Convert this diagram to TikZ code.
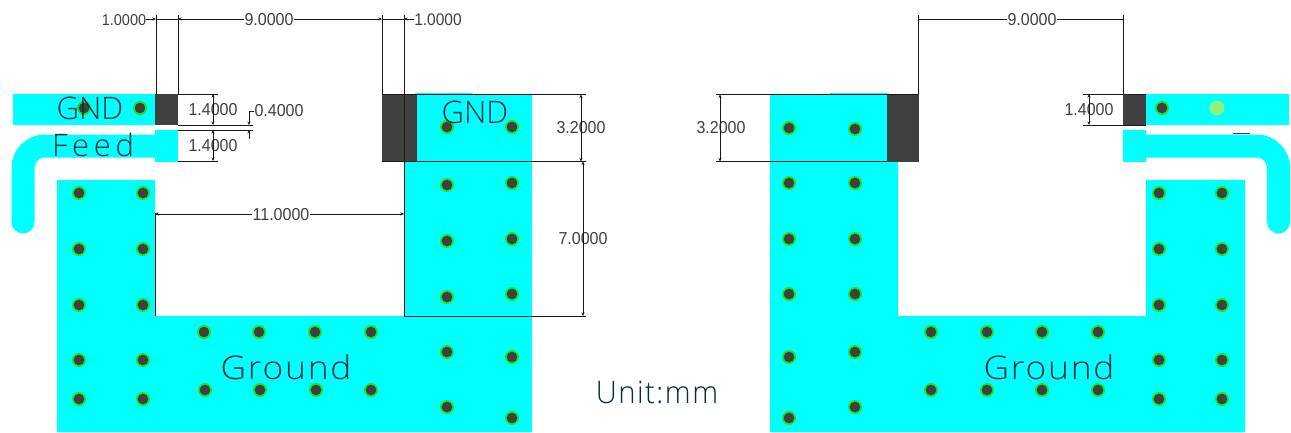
\documentclass[tikz,border=0pt]{standalone}
\usepackage{fontspec}
\usepackage{graphicx}
\setmainfont{Liberation Sans}
\newfontfamily\thinfont{Open Sans Light}
\newfontfamily\thinwide[LetterSpace=15]{Open Sans Light}
\usetikzlibrary{arrows.meta}
\definecolor{cy}{HTML}{00FFFF}
\definecolor{dk}{HTML}{404040}
\definecolor{vg}{HTML}{22E022}
\definecolor{tl}{HTML}{06303C}
\definecolor{lg}{HTML}{90F080}
\tikzset{
  pad/.style={fill=cy,draw=none},
  metal/.style={fill=dk,draw=none},
  dimline/.style={draw=black!90,line width=1pt},
  tipend/.style={dimline,-{Stealth[length=3.5pt,width=3pt]}},
  tipstart/.style={dimline,{Stealth[length=3.5pt,width=3pt]}-},
  dimarrow/.style={dimline,{Stealth[length=3.5pt,width=3pt]}-{Stealth[length=3.5pt,width=3pt]}},
  dimlab/.style={inner sep=0pt,text=black!75,font=\fontsize{16}{16}\selectfont},
  biglab/.style={inner sep=0pt,text=tl,font=\thinfont\fontsize{31}{31}\selectfont},
  via/.pic={\fill[vg] (0,0) circle (7pt);\fill[dk] (0,0) circle (5.3pt);}
}
\newcommand{\tall}[1]{\scalebox{1}[1.08]{#1}}
\begin{document}
\begin{tikzpicture}[x=1pt,y=-1pt]
\useasboundingbox[fill=white] (0,0) rectangle (1291,432);
% ---- left copper
\fill[pad] (13,94) rectangle (155,125);
\fill[metal] (155,94) rectangle (178,125);
\draw[cy,line width=23pt,line cap=round,rounded corners=22pt] (165,146) -- (23,146) -- (23,222);
\fill[pad] (155,130) rectangle (178,161.5);
\fill[pad] (57,180) -- (155,180) -- (155,316) -- (404,316) -- (404,161) -- (417,161) -- (417,95) -- (532,95) -- (532,432) -- (57,432) -- cycle;
\fill[pad] (415,92.5) rectangle (473,95);
\fill[metal] (382,94) rectangle (417,161.5);
% ---- right copper
\fill[pad] (1146,94) rectangle (1289,125);
\fill[metal] (1123,94) rectangle (1146,125);
\draw[cy,line width=23pt,line cap=round,rounded corners=22pt] (1136,146) -- (1278.5,146) -- (1278.5,222);
\fill[pad] (1123,130) rectangle (1146,161.5);
\fill[pad] (1245,180) -- (1146,180) -- (1146,316) -- (898,316) -- (898,161) -- (887,161) -- (887,95) -- (770,95) -- (770,432) -- (1245,432) -- cycle;
\fill[pad] (830,92.5) rectangle (889,95);
\fill[metal] (887,94) rectangle (919,161.5);
\draw[dk,line width=1.2pt] (1233,133.5) -- (1250,133.5);
% ---- vias
\foreach \p in {(84,108),(140,108),(79,193),(143,193),(79,249),(143,249),(79,305),(143,305),(79,360),(143,360),(79,399),(143,399),
 (204,332),(259,332),(315,332),(371,332),(205,390),(260,390),(316,390),(371,390),
 (447,127),(512,127),(447,185),(512,183),(447,241),(512,239),(447,297),(512,294),(447,352),(512,357),(447,407),(512,418),
 (789,128),(855,129),(789,183),(855,183),(789,239),(855,239),(789,294),(855,294),(789,357),(855,352),(789,418),(855,407),
 (931,332),(987,332),(1042,332),(1098,332),(931,390),(987,390),(1042,390),(1098,390),
 (1159,193),(1222,193),(1159,249),(1222,249),(1159,305),(1222,305),(1159,360),(1222,360),(1159,399),(1222,399),
 (1162,108)} \path \p pic {via};
\fill[lg] (1217,108) circle (7.5pt);
% ---- big labels
\node[biglab] (gndl) at (90,108) {GND};
\node[biglab] (gndm) at (475,112) {GND};
\node[biglab,font=\thinwide\fontsize{31}{31}\selectfont] (feed) at (93,145) {Feed};
\node[biglab] (grl) at (286,367) {\scalebox{1.14}[1.05]{\addfontfeature{LetterSpace=5}Ground}};
\node[biglab] (grr) at (1049,367) {\scalebox{1.14}[1.05]{\addfontfeature{LetterSpace=5}Ground}};
\node[biglab] (unit) at (657,392) {\scalebox{0.945}[1]{\addfontfeature{LetterSpace=5}Unit:mm}};
% ---- dimension labels
\node[dimlab,font=\fontsize{14.5}{14.5}\selectfont] (d1a) at (124,20) {\tall{1.0000}};
\node[dimlab] (d9a) at (269,20) {\tall{9.0000}};
\node[dimlab,font=\fontsize{15.5}{15.5}\selectfont] (d1b) at (438,20) {\tall{1.0000}};
\node[dimlab] (d14a) at (213,110) {\tall{1.4000}};
\node[dimlab] (d14b) at (213,146) {\tall{1.4000}};
\node[dimlab] (d04) at (279,111) {\tall{0.4000}};
\node[dimlab] (d11) at (281,215) {\tall{11.0000}};
\node[dimlab] (d32a) at (581,128) {\tall{3.2000}};
\node[dimlab] (d7) at (583,239) {\tall{7.0000}};
\node[dimlab] (d32b) at (721,128) {\tall{3.2000}};
\node[dimlab] (d9b) at (1032,20) {\tall{9.0000}};
\node[dimlab] (d14c) at (1089,110) {\tall{1.4000}};
% ---- extension lines, left
\draw[dimline] (156,15) -- (156,94);
\draw[dimline] (178,15) -- (178,94);
\draw[dimline] (382,15) -- (382,94);
\draw[dimline] (404,15) -- (404,316);
\draw[dimline] (155,213) -- (155,316);
\draw[dimline] (178,94) -- (218,94);
\draw[dimline] (178,125) -- (253,125);
\draw[dimline] (178,130) -- (253,130);
\draw[dimline] (178,161) -- (218,161);
\draw[dimline] (382,94.5) -- (586,94.5);
\draw[dimline] (382,161.5) -- (586,161.5);
\draw[dimline] (404,316) -- (586,316);
% ---- dimension lines, left
\coordinate (a1) at (156,19); \coordinate (a2) at (178,19); \coordinate (a3) at (382,19); \coordinate (a4) at (404,19);
\draw[tipend] (d1a.east |- a1) -- (a1);
\draw[dimline] (a1) -- (a2);
\draw[tipstart] (a2) -- (d9a.west |- a2);
\draw[tipend] (d9a.east |- a3) -- (a3);
\draw[dimline] (a3) -- (a4);
\draw[tipstart] (a4) -- (d1b.west |- a4);
\draw[dimarrow] (213,94) -- (213,125);
\draw[dimarrow] (213,130) -- (213,161);
\coordinate (k1) at (249,111);
\draw[tipend] (d04.west) -- (k1) -- (249,125);
\draw[tipstart] (249,130) -- (249,139);
\coordinate (e1) at (155,214); \coordinate (e2) at (404,214);
\draw[tipstart] (e1) -- (d11.west |- e1);
\draw[tipend] (d11.east |- e2) -- (e2);
\draw[dimarrow] (581,94.5) -- (581,161.5);
\draw[dimarrow] (583,161.5) -- (583,316);
% ---- right dimensions
\draw[dimline] (918,15) -- (918,94);
\draw[dimline] (1123,15) -- (1123,94);
\coordinate (b1) at (918,19); \coordinate (b2) at (1123,19);
\draw[dimline] (b1) -- (d9b.west |- b1);
\draw[dimline] (d9b.east |- b2) -- (b2);
\draw[dimline] (1083,94) -- (1146,94);
\draw[dimline] (1083,125) -- (1146,125);
\draw[dimarrow] (1089,94) -- (1089,125);
\draw[dimline] (716,94.5) -- (918,94.5);
\draw[dimline] (716,161.5) -- (887,161.5);
\draw[dimarrow] (720,94.5) -- (720,161.5);
\end{tikzpicture}
\end{document}
